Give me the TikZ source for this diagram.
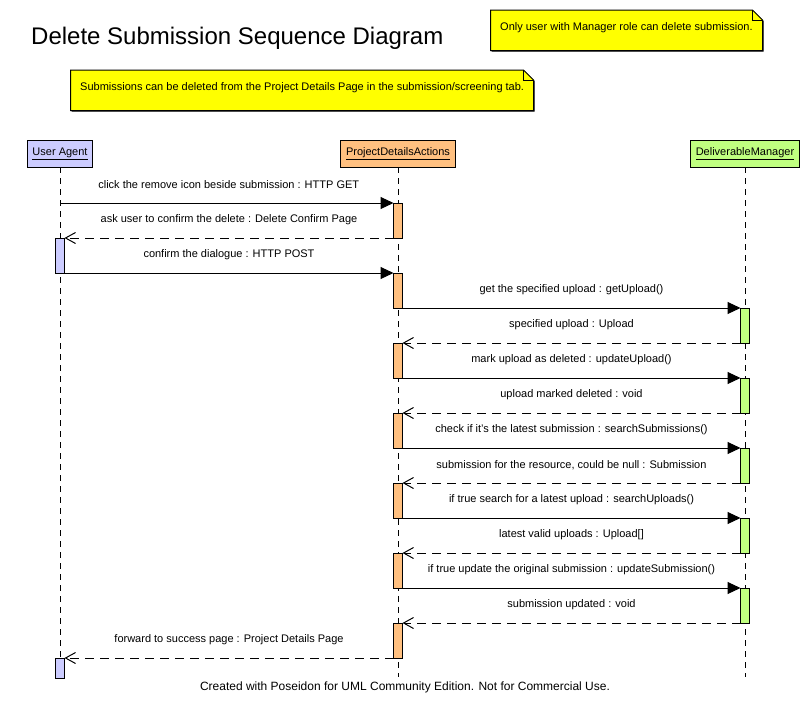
\documentclass[tikz,border=0pt]{standalone}
\usepackage{fontspec}
\setmainfont{Liberation Sans}
\usetikzlibrary{arrows.meta}
\definecolor{uacol}{RGB}{204,204,255}
\definecolor{pdacol}{RGB}{255,192,128}
\definecolor{dmcol}{RGB}{192,255,128}
\definecolor{noteyellow}{RGB}{255,255,0}
\begin{document}
\begin{tikzpicture}[x=1pt,y=-1pt,
  font=\fontsize{11}{13}\selectfont,
  head/.style={draw, line width=1pt, minimum height=27pt, inner sep=0pt, outer sep=0pt},
  bar/.style={draw, line width=1pt, minimum width=9pt, minimum height=35pt, inner sep=0pt, outer sep=0pt},
  life/.style={line width=1pt, dash pattern=on 6pt off 5pt},
  call/.style={line width=1pt, -{Triangle[length=13pt,width=12pt]}},
  ret/.style={line width=1pt, dash pattern=on 9pt off 6pt, -{Straight Barb[length=10pt,width=11pt,line width=1pt]}},
  lbl/.style={midway, yshift=18pt, inner sep=0pt},
  notebox/.style={draw, line width=1pt, fill=noteyellow},
  notetext/.style={anchor=west, inner sep=0pt}]
\useasboundingbox (0,0) rectangle (811,713);
\fill[white] (0,0) rectangle (811,713);

% title
\node[anchor=west, inner sep=0pt, font=\fontsize{24}{28}\selectfont] (title) at (31,38) {Delete Submission Sequence Diagram};

% notes
\fill[black] (491.5,11) -- (753.5,11) -- (763.5,21) -- (763.5,51.5) -- (491.5,51.5) -- cycle;
\draw[notebox] (490.5,10) -- (752.5,10) -- (762.5,20) -- (762.5,50.5) -- (490.5,50.5) -- cycle;
\draw[line width=1pt] (752.5,10) -- (752.5,20) -- (762.5,20);
\node[notetext] (note1) at (500,28) {Only user with Manager role can delete submission.};

\fill[black] (71.5,71) -- (524.5,71) -- (534.5,81) -- (534.5,111.5) -- (71.5,111.5) -- cycle;
\draw[notebox] (70.5,70) -- (523.5,70) -- (533.5,80) -- (533.5,110.5) -- (70.5,110.5) -- cycle;
\draw[line width=1pt] (523.5,70) -- (523.5,80) -- (533.5,80);
\node[notetext] (note2) at (80,88) {Submissions can be deleted from the Project Details Page in the submission/screening tab.};

% lifeline heads
\node[head, fill=uacol, minimum width=65pt] (ua) at (60,153.5) {\underline{User Agent}};
\node[head, fill=pdacol, minimum width=115pt] (pda) at (398,153.5) {\underline{ProjectDetailsActions}};
\node[head, fill=dmcol, minimum width=109pt] (dm) at (745,153.5) {\underline{DeliverableManager}};

% lifelines
\coordinate (uaend) at (60,678);
\coordinate (pdaend) at (398,677);
\coordinate (dmend) at (745,677);
\draw[life] (ua.south) -- (uaend);
\draw[life] (pda.south) -- (pdaend);
\draw[life] (dm.south) -- (dmend);

% activation bars
\node[bar, fill=pdacol] (p1) at (398,220.5) {};
\node[bar, fill=uacol] (u1) at (60,255.5) {};
\node[bar, fill=pdacol] (p2) at (398,290.5) {};
\node[bar, fill=dmcol] (d1) at (745,325.5) {};
\node[bar, fill=pdacol] (p3) at (398,360.5) {};
\node[bar, fill=dmcol] (d2) at (745,395.5) {};
\node[bar, fill=pdacol] (p4) at (398,430.5) {};
\node[bar, fill=dmcol] (d3) at (745,465.5) {};
\node[bar, fill=pdacol] (p5) at (398,500.5) {};
\node[bar, fill=dmcol] (d4) at (745,535.5) {};
\node[bar, fill=pdacol] (p6) at (398,570.5) {};
\node[bar, fill=dmcol] (d5) at (745,605.5) {};
\node[bar, fill=pdacol] (p7) at (398,640.5) {};
\node[bar, fill=uacol, minimum height=20pt] (u2) at (60,668) {};

% messages
\coordinate (ua1) at (60,203);
\draw[call] (ua1) -- node[lbl, xshift=2pt]{click the remove icon beside submission : HTTP GET} (p1.north west);
\draw[ret] (p1.south west) -- node[lbl]{ask user to confirm the delete : Delete Confirm Page} (u1.north east);
\draw[call] (u1.south east) -- node[lbl]{confirm the dialogue : HTTP POST} (p2.north west);
\draw[call] (p2.south east) -- node[lbl]{get the specified upload : getUpload()} (d1.north west);
\draw[ret] (d1.south west) -- node[lbl]{specified upload : Upload} (p3.north east);
\draw[call] (p3.south east) -- node[lbl]{mark upload as deleted : updateUpload()} (d2.north west);
\draw[ret] (d2.south west) -- node[lbl]{upload marked deleted : void} (p4.north east);
\draw[call] (p4.south east) -- node[lbl]{check if it's the latest submission : searchSubmissions()} (d3.north west);
\draw[ret] (d3.south west) -- node[lbl]{submission for the resource, could be null : Submission} (p5.north east);
\draw[call] (p5.south east) -- node[lbl]{if true search for a latest upload : searchUploads()} (d4.north west);
\draw[ret] (d4.south west) -- node[lbl]{latest valid uploads : Upload[]} (p6.north east);
\draw[call] (p6.south east) -- node[lbl]{if true update the original submission : updateSubmission()} (d5.north west);
\draw[ret] (d5.south west) -- node[lbl]{submission updated : void} (p7.north east);
\draw[ret] (p7.south west) -- node[lbl]{forward to success page : Project Details Page} (u2.north east);

% footer
\node[inner sep=0pt, font=\fontsize{12}{14}\selectfont] (footer) at (405,687) {Created with Poseidon for UML Community Edition. Not for Commercial Use.};
\end{tikzpicture}
\end{document}
